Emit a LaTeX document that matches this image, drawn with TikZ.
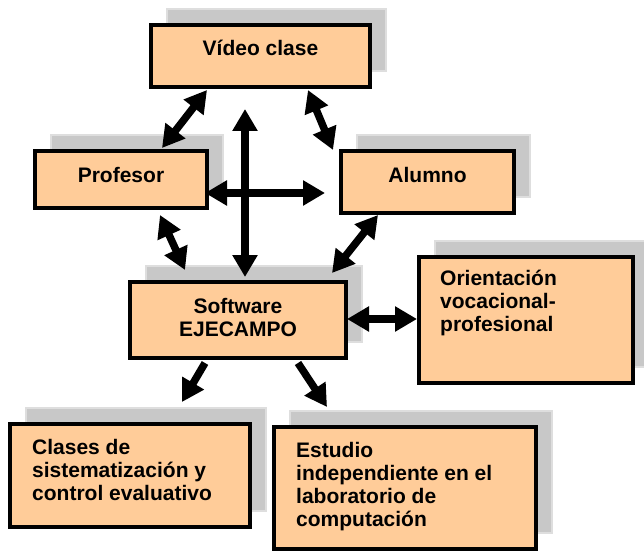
\documentclass[tikz,border=0pt]{standalone}
\usepackage{fontspec}
\setmainfont{Liberation Sans}
\usetikzlibrary{arrows.meta,shadows,calc}
\definecolor{peach}{RGB}{255,204,153}
\definecolor{shadowgray}{RGB}{200,200,200}
\definecolor{shadowedge}{RGB}{222,222,222}
\begin{document}
\begin{tikzpicture}[x=1pt,y=-1pt,
  box/.style={rectangle, draw=black, line width=4pt, fill=peach, inner sep=0pt,
    drop shadow={shadow xshift=16pt, shadow yshift=16pt, opacity=1,
      fill=shadowgray, draw=shadowedge, line width=1.5pt}},
  txt/.style={font=\fontsize{21}{23}\selectfont\bfseries, inner sep=0pt},
  dbl/.style={line width=7.5pt, >={Triangle[length=22pt,width=24pt]}, <->},
  sgl/.style={line width=7.5pt, >={Triangle[length=22pt,width=24pt]}, ->}]
\useasboundingbox (0,0) rectangle (644,553);

% boxes
\node[box, minimum width=219pt, minimum height=62pt] (video) at (260.5,56) {};
\node[box, minimum width=172pt, minimum height=57pt] (prof) at (121,179.5) {};
\node[box, minimum width=173pt, minimum height=62pt] (alumno) at (427.5,182) {};
\node[box, minimum width=216pt, minimum height=76pt] (soft) at (238,320) {};
\node[box, minimum width=214pt, minimum height=126pt] (orient) at (526,320) {};
\node[box, minimum width=240pt, minimum height=103pt] (clases) at (130,475.5) {};
\node[box, minimum width=262pt, minimum height=122pt] (estudio) at (405,488) {};

% texts
\node[txt, anchor=base] (tvideo) at (260.5,56) {Vídeo clase};
\node[txt, anchor=base] (tprof) at (121,183) {Profesor};
\node[txt, anchor=base] (talumno) at (427.5,183) {Alumno};
\node[txt, anchor=base] (tsoft) at (238,313) {\parbox[t]{200pt}{\centering Software\\EJECAMPO}};
\node[txt, anchor=base west] (torient) at (440,285) {\parbox[t]{190pt}{\raggedright Orientación\\vocacional-\\profesional}};
\node[txt, anchor=base west] (tclases) at (32,454) {\parbox[t]{215pt}{\raggedright Clases de\\sistematización y\\control evaluativo}};
\node[txt, anchor=base west] (testudio) at (296,457) {\parbox[t]{235pt}{\raggedright Estudio\\independiente en el\\laboratorio de\\computación}};

% connectors
\draw[dbl] ($(video.south west)+(58,1)$) -- ($(prof.north west)+(129,-1)$);
\draw[dbl] ($(video.south east)+(-64,1)$) -- ($(alumno.north west)+(-6,1)$);
\draw[dbl] ($(video.south)+(-15.5,20)$) -- ($(soft.north)+(7,-3)$);
\draw[dbl] ($(prof.east)+(-4,13.5)$) -- ($(alumno.west)+(-14,11)$);
\draw[dbl] ($(prof.south west)+(127,5)$) -- ($(soft.north west)+(57,-10)$);
\draw[dbl] ($(alumno.south west)+(39,0)$) -- ($(soft.north east)+(-16,-7)$);
\draw[dbl] ($(soft.east)+(-1,-1)$) -- ($(orient.west)+(0,-1)$);
\draw[sgl] ($(soft.south west)+(77,3)$) -- ($(clases.north east)+(-70,-20)$);
\draw[sgl] ($(soft.south west)+(170,3)$) -- ($(estudio.north west)+(55,-18)$);
\end{tikzpicture}
\end{document}
